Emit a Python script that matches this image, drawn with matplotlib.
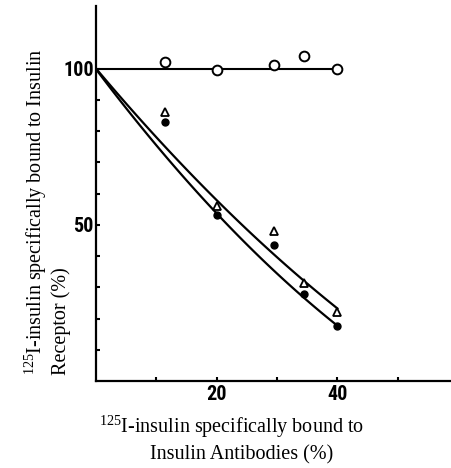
import numpy as np
import matplotlib.pyplot as plt

plt.rcParams['font.family'] = 'Liberation Serif'
plt.rcParams['mathtext.fontset'] = 'custom'
plt.rcParams['mathtext.rm'] = 'Liberation Serif'

# antibody-bound (%) for each sample
x = [11.5, 20, 29.5, 34.5, 40]
circle_y = [102, 99.5, 101, 104, 100]
triangle_y = [86, 56, 48, 31.5, 22]
dot_y = [83, 53, 43.5, 28, 17.5]

# points
flat_x = [0, 40]
flat_y = [100, 100]
upper_x = [0, 16.5, 39.5]
upper_y = [100, 64.7, 24]
lower_x = [0, 14.5, 34, 40]
lower_y = [100, 64.7, 28.5, 17]

xticks = [10, 20, 30, 40, 50]
xticklabels = ['', '20', '', '40', '']
yticks = [10, 20, 30, 40, 50, 60, 70, 80, 90, 100]
yticklabels = ['', '', '', '', '50', '', '', '', '', '100']

fig = plt.figure(figsize=(4.52, 4.68), dpi=100)
ax = fig.add_axes([96/452, 87/468, 356/452, 375/468])

ax.plot(flat_x, flat_y, 'k-', lw=1.5)
xx = np.linspace(0, 40, 100)
for cx, cy in [(upper_x, upper_y), (lower_x, lower_y)]:
    ax.plot(xx, np.polyval(np.polyfit(cx, cy, 2), xx), 'k-', lw=1.6)

ax.plot(x, circle_y, 'o', mfc='white', mec='black', mew=1.4, ms=7, clip_on=False)
ax.plot(x, triangle_y, '^', mfc='white', mec='black', mew=1.3, ms=5.5)
ax.plot(x, dot_y, 'o', color='black', ms=5)

ax.set_xlim(0, 59)
ax.set_ylim(0, 120)
for s in ['top', 'right']:
    ax.spines[s].set_visible(False)
for s in ['left', 'bottom']:
    ax.spines[s].set_linewidth(1.6)

# narrow bold digits like the original
tick_font = {'family': ['Liberation Sans Narrow', 'Roboto Condensed', 'DejaVu Sans'],
             'stretch': 'condensed', 'weight': 'bold', 'size': 14.5}
ax.set_xticks(xticks)
ax.set_xticklabels(xticklabels, fontdict=tick_font)
ax.set_yticks(yticks)
ax.set_yticklabels(yticklabels, fontdict=tick_font)
ax.tick_params(direction='in', length=3, width=1.5)
ax.tick_params(axis='y', pad=1.5)
ax.tick_params(axis='x', pad=3)

fig.text(232/452, 1 - 427/468, r'$^{\mathrm{125}}$I-insulin specifically bound to',
         ha='center', va='center', fontsize=14.5)
fig.text(242/452, 1 - 455/468, 'Insulin Antibodies (%)',
         ha='center', va='center', fontsize=14.5)
fig.text(36/452, 1 - 375/468, r'$^{\mathrm{125}}$I-insulin specifically bound to Insulin',
         ha='center', va='bottom', rotation=90, fontsize=14.5)
fig.text(61/452, 1 - 375/468, 'Receptor (%)',
         ha='center', va='bottom', rotation=90, fontsize=14.5)

fig.savefig('out.png', dpi=100)
